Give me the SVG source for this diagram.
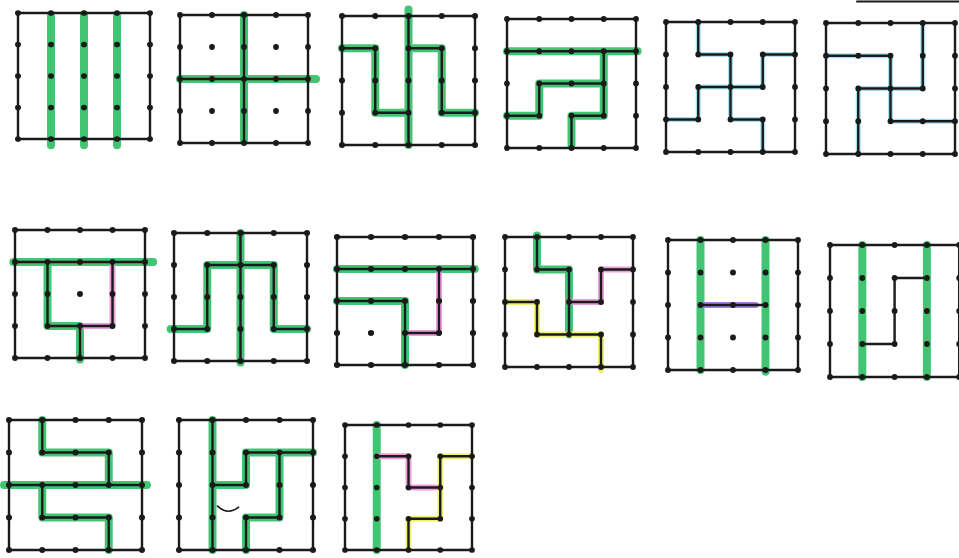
<svg xmlns="http://www.w3.org/2000/svg" xmlns:xlink="http://www.w3.org/1999/xlink" width="959" height="558" viewBox="0 0 959 558">
<style>
  path, rect, line { vector-effect: non-scaling-stroke; fill: none; stroke-linecap: round; stroke-linejoin: round; }
  .bd { stroke: #1a1a1a; stroke-width: 2.4; }
  .k { stroke: #1a1a1a; stroke-width: 2.4; }
  .g { stroke: #33c168; stroke-width: 8; opacity: 0.92; }
  .c { stroke: #8fdcea; stroke-width: 5; opacity: 0.8; }
  .p { stroke: #ec92d9; stroke-width: 6; opacity: 0.9; }
  .y { stroke: #eef266; stroke-width: 6; opacity: 0.95; }
  .v { stroke: #a070e0; stroke-width: 6; opacity: 0.9; }
  .dot { fill: #1a1a1a; }
</style>
<defs>
  <g id="grid">
    <rect class="bd" x="0" y="0" width="4" height="4"/>
    <g class="dot">
      <circle cx="0" cy="0" r="0.09"/><circle cx="1" cy="0" r="0.09"/><circle cx="2" cy="0" r="0.09"/><circle cx="3" cy="0" r="0.09"/><circle cx="4" cy="0" r="0.09"/>
      <circle cx="0" cy="1" r="0.09"/><circle cx="1" cy="1" r="0.09"/><circle cx="2" cy="1" r="0.09"/><circle cx="3" cy="1" r="0.09"/><circle cx="4" cy="1" r="0.09"/>
      <circle cx="0" cy="2" r="0.09"/><circle cx="1" cy="2" r="0.09"/><circle cx="2" cy="2" r="0.09"/><circle cx="3" cy="2" r="0.09"/><circle cx="4" cy="2" r="0.09"/>
      <circle cx="0" cy="3" r="0.09"/><circle cx="1" cy="3" r="0.09"/><circle cx="2" cy="3" r="0.09"/><circle cx="3" cy="3" r="0.09"/><circle cx="4" cy="3" r="0.09"/>
      <circle cx="0" cy="4" r="0.09"/><circle cx="1" cy="4" r="0.09"/><circle cx="2" cy="4" r="0.09"/><circle cx="3" cy="4" r="0.09"/><circle cx="4" cy="4" r="0.09"/>
    </g>
  </g>
</defs>
<rect x="0" y="0" width="959" height="558" fill="#ffffff"/>
<line x1="857" y1="1.5" x2="959" y2="1.5" stroke="#1a1a1a" stroke-width="2"/>

<!-- Row 1 -->
<g id="p1" transform="translate(18,13) scale(33,31.5)">
  <path class="g" d="M1,0.1 V4.2 M2,0.05 V4.2 M3,0.1 V4.2"/>
  <use href="#grid"/>
</g>
<g id="p2" transform="translate(180,15) scale(32,32)">
  <path class="g" d="M2,0 V3.9 M0,2 H4.25"/>
  <use href="#grid"/>
  <path class="k" d="M0,2 H4 M2,0 V4"/>
</g>
<g id="p3" transform="translate(342,16) scale(33.25,32.25)">
  <path class="g" d="M2,-0.2 V4 M0,1 H1 V3 H2 M2,1 H3 V3 H4"/>
  <use href="#grid"/>
  <path class="k" d="M2,0 V4 M0,1 H1 V3 H2 M2,1 H3 V3 H4"/>
</g>
<g id="p4" transform="translate(507,19) scale(32.25,32.25)">
  <path class="g" d="M0,1 H4.05 M3,1 V3 H2 V3.9 M0,3 H1 V2 H3"/>
  <use href="#grid"/>
  <path class="k" d="M0,1 H4 M3,1 V3 H2 V4 M0,3 H1 V2 H3"/>
</g>
<g id="p5" transform="translate(666,22) scale(32.25,32.5)">
  <path class="c" d="M1,0 V1 H2 V3 H3 V4 M4,1 H3 V2 H1 V3 H0"/>
  <use href="#grid"/>
  <path class="k" d="M1,0 V1 H2 V3 H3 V4 M4,1 H3 V2 H1 V3 H0"/>
</g>
<g id="p6" transform="translate(826,23) scale(32.25,32.75)">
  <path class="c" d="M0,1 H2 V3 H4 M3,0 V2 H1 V4"/>
  <use href="#grid"/>
  <path class="k" d="M0,1 H2 V3 H4 M3,0 V2 H1 V4"/>
</g>

<!-- Row 2 -->
<g id="p7" transform="translate(15,230) scale(32.5,32)">
  <path class="g" d="M-0.05,1 H4.25 M1,1 V3 H2 V4.05"/>
  <path class="p" d="M3,1 V3 H2"/>
  <use href="#grid"/>
  <path class="k" d="M0,1 H4 M1,1 V3 H3 V1 M2,3 V4"/>
</g>
<g id="p8" transform="translate(174,233) scale(33.25,32)">
  <path class="g" d="M2,0 V4.05 M-0.1,3 H1 V1 H3 V3 H4"/>
  <use href="#grid"/>
  <path class="k" d="M2,0 V4 M0,3 H1 V1 H3 V3 H4"/>
</g>
<g id="p9" transform="translate(337,237) scale(34,32)">
  <path class="g" d="M0,1 H4.05 M0,2 H2 V4"/>
  <path class="p" d="M3,1 V3 H2"/>
  <use href="#grid"/>
  <path class="k" d="M0,1 H4 M0,2 H2 V4 M3,1 V3 H2"/>
</g>
<g id="p10" transform="translate(505,237) scale(32,32.5)">
  <path class="g" d="M1,-0.05 V1 H2 V3"/>
  <path class="p" d="M2,2 H3 V1 H4"/>
  <path class="y" d="M0,2 H1 V3 H3 V4.1"/>
  <use href="#grid"/>
  <path class="k" d="M1,0 V1 H2 V3 M2,2 H3 V1 H4 M0,2 H1 V3 H3 V4"/>
</g>
<g id="p11" transform="translate(668,240) scale(32.5,32.5)">
  <path class="g" d="M1,0 V4 M3,0 V4.05"/>
  <path class="v" d="M1,2 H2.7"/>
  <use href="#grid"/>
  <path class="k" d="M1,2 H3"/>
</g>
<g id="p12" transform="translate(830,245) scale(32.3,33)">
  <path class="g" d="M1,0 V4 M3,0 V4"/>
  <use href="#grid"/>
  <path class="k" d="M3,1 H2 V3 H1"/>
</g>

<!-- Row 3 -->
<g id="p13" transform="translate(9,420) scale(33.25,32.5)">
  <path class="g" d="M1,0 V1 H3 V2 M-0.15,2 H4.15 M1,2 V3 H3 V4"/>
  <use href="#grid"/>
  <path class="k" d="M1,0 V1 H3 V2 M0,2 H4 M1,2 V3 H3 V4"/>
</g>
<g id="p14" transform="translate(179,420) scale(33.5,32.5)">
  <path class="g" d="M1,0 V4 M1,2 H2 V1 H4 M3,1 V3 H2 V4"/>
  <use href="#grid"/>
  <path class="k" d="M1,0 V4 M1,2 H2 V1 H4 M3,1 V3 H2 V4"/>
  <path class="k" d="M1.15,2.65 Q1.45,2.95 1.78,2.68" style="stroke-width:1.5"/>
</g>
<g id="p15" transform="translate(345,425) scale(31.75,31.25)">
  <path class="g" d="M1,0 V4"/>
  <path class="p" d="M1,1 H2 V2 H3"/>
  <path class="y" d="M4,1 H3 V3 H2 V4"/>
  <use href="#grid"/>
  <path class="k" d="M1,1 H2 V2 H3 M4,1 H3 V3 H2 V4"/>
</g>
</svg>
